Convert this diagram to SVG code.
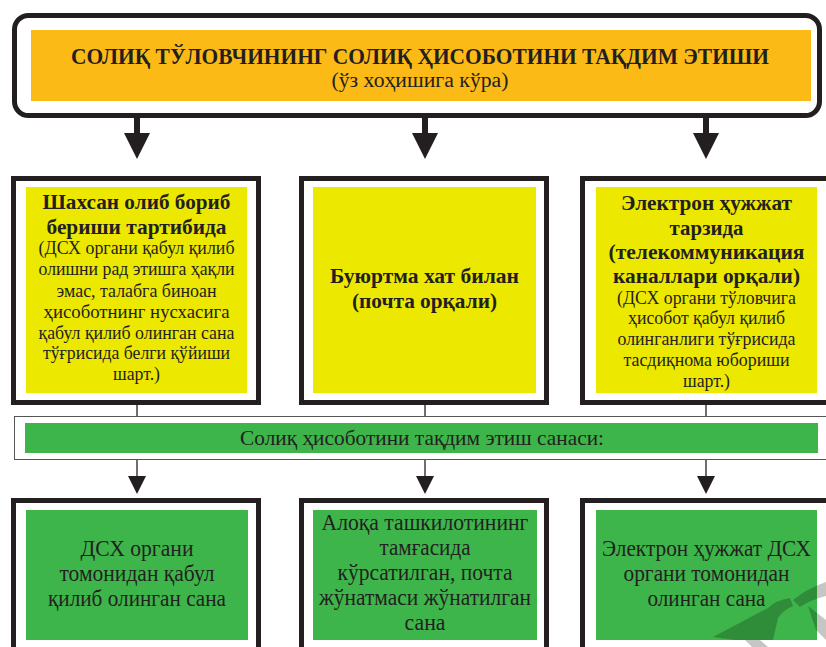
<svg xmlns="http://www.w3.org/2000/svg" width="826" height="647" viewBox="0 0 826 647">
<defs>
<style>
.frame{fill:#fff;stroke:#231F20;stroke-width:5}
.yel{fill:#EDE800}
.grn{fill:#3DB54A}
.t{font-family:"Liberation Serif","Times New Roman",serif;fill:#231F20;text-anchor:middle}
.b{font-weight:bold;font-size:22px}
.r{font-size:19px}
.bt{font-size:22.5px}
.thick{stroke:#231F20;stroke-width:6;fill:none}
.thin{stroke:#231F20;stroke-width:1.3;fill:none}
.head{fill:#231F20}
</style>
</defs>
<rect width="826" height="647" fill="#fff"/>

<g id="title">
<rect x="14.5" y="15.5" width="805" height="100" rx="14" class="frame"/>
<rect x="31" y="30" width="780" height="71" fill="#FBBA16"/>
<text class="t" x="420" y="64" font-size="23.5" font-weight="bold" textLength="698" lengthAdjust="spacingAndGlyphs">СОЛИҚ ТЎЛОВЧИНИНГ СОЛИҚ ҲИСОБОТИНИ ТАҚДИМ ЭТИШИ</text>
<text class="t" x="420" y="87" font-size="20" textLength="177" lengthAdjust="spacingAndGlyphs">(ўз хоҳишига кўра)</text>
</g>

<g id="connectors">
<line class="thick" x1="137" y1="118" x2="137" y2="135"/>
<polygon class="head" points="124,133 150,133 137,159"/>
<line class="thick" x1="425" y1="118" x2="425" y2="135"/>
<polygon class="head" points="412,133 438,133 425,159"/>
<line class="thick" x1="706" y1="118" x2="706" y2="135"/>
<polygon class="head" points="693,133 719,133 706,159"/>

<line class="thin" x1="137" y1="405" x2="137" y2="417"/>
<line class="thin" x1="425" y1="405" x2="425" y2="417"/>
<line class="thin" x1="706" y1="405" x2="706" y2="417"/>

<line class="thin" x1="137" y1="460" x2="137" y2="478"/>
<polygon class="head" points="128,476 146,476 137,494"/>
<line class="thin" x1="425" y1="460" x2="425" y2="478"/>
<polygon class="head" points="416,476 434,476 425,494"/>
<line class="thin" x1="706" y1="460" x2="706" y2="478"/>
<polygon class="head" points="697,476 715,476 706,494"/>
</g>

<g id="node-personal">
<rect x="13.5" y="178.5" width="245" height="224" class="frame"/>
<rect x="26" y="187" width="221" height="206" class="yel"/>
<text class="t b" x="136.5" y="209" textLength="188" lengthAdjust="spacingAndGlyphs">Шахсан олиб бориб</text>
<text class="t b" x="136.5" y="234" textLength="180" lengthAdjust="spacingAndGlyphs">бериши тартибида</text>
<text class="t r" x="136.5" y="254" textLength="196" lengthAdjust="spacingAndGlyphs">(ДСХ органи қабул қилиб</text>
<text class="t r" x="136.5" y="275" textLength="196" lengthAdjust="spacingAndGlyphs">олишни рад этишга ҳақли</text>
<text class="t r" x="136.5" y="297" textLength="160" lengthAdjust="spacingAndGlyphs">эмас, талабга биноан</text>
<text class="t r" x="136.5" y="318" textLength="186" lengthAdjust="spacingAndGlyphs">ҳисоботнинг нусхасига</text>
<text class="t r" x="136.5" y="339" textLength="196" lengthAdjust="spacingAndGlyphs">қабул қилиб олинган сана</text>
<text class="t r" x="136.5" y="359" textLength="187" lengthAdjust="spacingAndGlyphs">тўғрисида белги қўйиши</text>
<text class="t r" x="136.5" y="380" textLength="47" lengthAdjust="spacingAndGlyphs">шарт.)</text>
</g>

<g id="node-mail">
<rect x="301.5" y="178.5" width="245" height="224" class="frame"/>
<rect x="313" y="187" width="223" height="206" class="yel"/>
<text class="t b" x="424.5" y="283" textLength="189" lengthAdjust="spacingAndGlyphs">Буюртма хат билан</text>
<text class="t b" x="424.5" y="308" textLength="145" lengthAdjust="spacingAndGlyphs">(почта орқали)</text>
</g>

<g id="node-electronic">
<rect x="582.5" y="178.5" width="247" height="224" class="frame"/>
<rect x="596" y="187" width="221" height="206" class="yel"/>
<text class="t b" x="706.5" y="210" textLength="171" lengthAdjust="spacingAndGlyphs">Электрон ҳужжат</text>
<text class="t b" x="706.5" y="235" textLength="74" lengthAdjust="spacingAndGlyphs">тарзида</text>
<text class="t b" x="706.5" y="259" textLength="196" lengthAdjust="spacingAndGlyphs">(телекоммуникация</text>
<text class="t b" x="706.5" y="283" textLength="187" lengthAdjust="spacingAndGlyphs">каналлари орқали)</text>
<text class="t r" x="706.5" y="304" textLength="179" lengthAdjust="spacingAndGlyphs">(ДСХ органи тўловчига</text>
<text class="t r" x="706.5" y="324" textLength="157" lengthAdjust="spacingAndGlyphs">ҳисобот қабул қилиб</text>
<text class="t r" x="706.5" y="345" textLength="178" lengthAdjust="spacingAndGlyphs">олинганлиги тўғрисида</text>
<text class="t r" x="706.5" y="366" textLength="166" lengthAdjust="spacingAndGlyphs">тасдиқнома юбориши</text>
<text class="t r" x="706.5" y="387" textLength="47" lengthAdjust="spacingAndGlyphs">шарт.)</text>
</g>

<g id="band">
<rect x="14.5" y="416.5" width="812" height="43" fill="#fff" stroke="#555" stroke-width="1"/>
<rect x="25" y="423" width="793" height="30" class="grn"/>
<text class="t" x="422" y="445" font-size="22" textLength="364" lengthAdjust="spacingAndGlyphs">Солиқ ҳисоботини тақдим этиш санаси:</text>
</g>

<g id="date-personal">
<rect x="13.5" y="500.5" width="245" height="152" class="frame"/>
<rect x="26" y="510" width="222" height="130" class="grn"/>
<text class="t bt" x="137" y="556" textLength="113" lengthAdjust="spacingAndGlyphs">ДСХ органи</text>
<text class="t bt" x="137" y="581" textLength="155" lengthAdjust="spacingAndGlyphs">томонидан қабул</text>
<text class="t bt" x="137" y="606" textLength="178" lengthAdjust="spacingAndGlyphs">қилиб олинган сана</text>
</g>

<g id="date-mail">
<rect x="301.5" y="500.5" width="245" height="152" class="frame"/>
<rect x="313" y="510" width="224" height="130" class="grn"/>
<text class="t bt" x="425" y="530" textLength="207" lengthAdjust="spacingAndGlyphs">Алоқа ташкилотининг</text>
<text class="t bt" x="425" y="555" textLength="91" lengthAdjust="spacingAndGlyphs">тамғасида</text>
<text class="t bt" x="425" y="580" textLength="175" lengthAdjust="spacingAndGlyphs">кўрсатилган, почта</text>
<text class="t bt" x="425" y="605" textLength="212" lengthAdjust="spacingAndGlyphs">жўнатмаси жўнатилган</text>
<text class="t bt" x="425" y="630" textLength="41" lengthAdjust="spacingAndGlyphs">сана</text>
</g>

<g id="date-electronic">
<rect x="582.5" y="500.5" width="247" height="152" class="frame"/>
<rect x="596" y="510" width="221" height="130" class="grn"/>
<text class="t bt" x="706.5" y="556" textLength="209" lengthAdjust="spacingAndGlyphs">Электрон ҳужжат ДСХ</text>
<text class="t bt" x="706.5" y="581" textLength="166" lengthAdjust="spacingAndGlyphs">органи томонидан</text>
<text class="t bt" x="706.5" y="606" textLength="118" lengthAdjust="spacingAndGlyphs">олинган сана</text>
</g>

<g id="watermark" fill="#000" opacity="0.22">
<path d="M713,637 L768,608 Q776,600 790,598 L793,606 Q783,610 778,618 L773,640 L735,640 Z"/>
<path d="M793,600 Q808,588 826,582 L826,596 Q810,600 800,607 Z"/>
<path d="M745,640 L760,640 L768,647 L752,647 Z"/>
<path d="M808,606 L826,620 L826,640 L816,630 Z"/>
</g>
</svg>
